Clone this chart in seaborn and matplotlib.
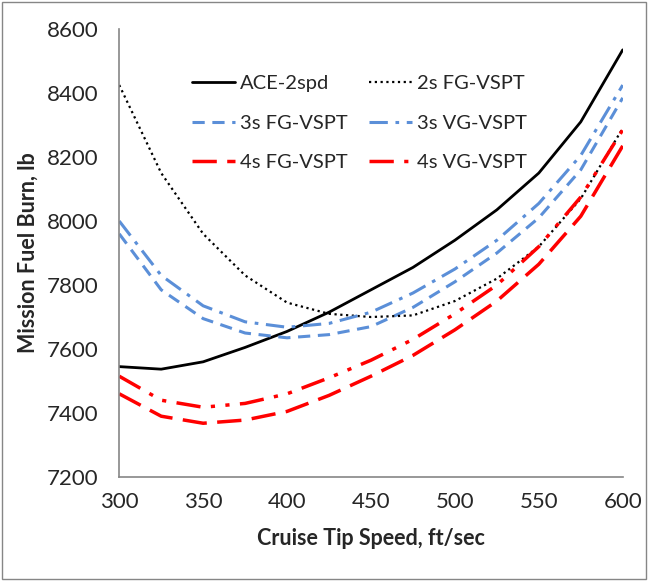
import matplotlib
matplotlib.use('Agg')
import matplotlib.pyplot as plt
import seaborn as sns
import pandas as pd
from matplotlib.patches import Rectangle

# data
tip_speed = [300, 325, 350, 375, 400, 425, 450, 475, 500, 525, 550, 575, 600]
ace_2spd = [7545, 7537, 7560, 7605, 7655, 7715, 7785, 7855, 7940, 8035, 8150, 8310, 8535]
fg2_vspt = [8425, 8150, 7960, 7830, 7745, 7710, 7700, 7705, 7750, 7820, 7920, 8070, 8290]
fg3_vspt = [7960, 7785, 7695, 7650, 7635, 7645, 7670, 7730, 7810, 7900, 8010, 8160, 8385]
vg3_vspt = [8000, 7830, 7735, 7685, 7668, 7680, 7715, 7775, 7850, 7940, 8055, 8205, 8425]
fg4_vspt = [7460, 7390, 7368, 7378, 7405, 7455, 7515, 7580, 7660, 7750, 7865, 8015, 8235]
vg4_vspt = [7515, 7440, 7418, 7430, 7460, 7510, 7565, 7630, 7710, 7800, 7920, 8075, 8285]

blue = '#5B8FD8'
red = '#FF0000'

# legend fills column-first, so order matters here
series = [
    ('ACE-2spd', ace_2spd, 'black', '-', 2.0),
    ('3s FG-VSPT', fg3_vspt, blue, (0, (4, 2.5)), 2.2),
    ('4s FG-VSPT', fg4_vspt, red, (0, (7, 3)), 2.5),
    ('2s FG-VSPT', fg2_vspt, 'black', (0, (1, 1.6)), 1.6),
    ('3s VG-VSPT', vg3_vspt, blue, (0, (6, 2.5, 1.2, 2.5)), 2.2),
    ('4s VG-VSPT', vg4_vspt, red, (0, (7, 3, 1.2, 3, 1.2, 3)), 2.5),
]

sns.set_style('white')
plt.rcParams['font.family'] = ['Lato', 'DejaVu Sans']

fig = plt.figure(figsize=(6.48, 5.81), dpi=100)
ax = fig.add_axes([0.184, 0.179, 0.777, 0.771])

for name, vals, color, ls, lw in series:
    df = pd.DataFrame({'speed': tip_speed, 'fuel': vals})
    sns.lineplot(data=df, x='speed', y='fuel', ax=ax, color=color,
                 linestyle=ls, linewidth=lw, label=name)

ax.set_xlim(300, 600)
ax.set_ylim(7200, 8600)
ax.set_xticks(range(300, 601, 50))
ax.set_yticks(range(7200, 8601, 200))
ax.tick_params(axis='both', direction='in', length=5, width=1, color='#868686',
               labelsize=16)
ax.tick_params(axis='y', pad=15)
ax.tick_params(axis='x', pad=11)
for s in ['top', 'right']:
    ax.spines[s].set_visible(False)
for s in ['left', 'bottom']:
    ax.spines[s].set_color('#868686')
    ax.spines[s].set_linewidth(1.2)

ax.set_xlabel('Cruise Tip Speed, ft/sec', fontsize=15.5, fontweight='bold', labelpad=11)
ax.set_ylabel('Mission Fuel Burn, lb', fontsize=15.5, fontweight='bold', labelpad=6)

ax.legend(ncol=2, frameon=False, fontsize=14.5, loc='upper left',
          bbox_to_anchor=(0.109, 0.937), handlelength=2.1, handletextpad=0.25,
          columnspacing=1.1, labelspacing=1.1)

# chart-area border like the original
fig.patches.append(Rectangle((0.003, 0.003), 0.994, 0.994, transform=fig.transFigure,
                             fill=False, edgecolor='#868686', linewidth=1))

plt.savefig('out.png', dpi=100)
